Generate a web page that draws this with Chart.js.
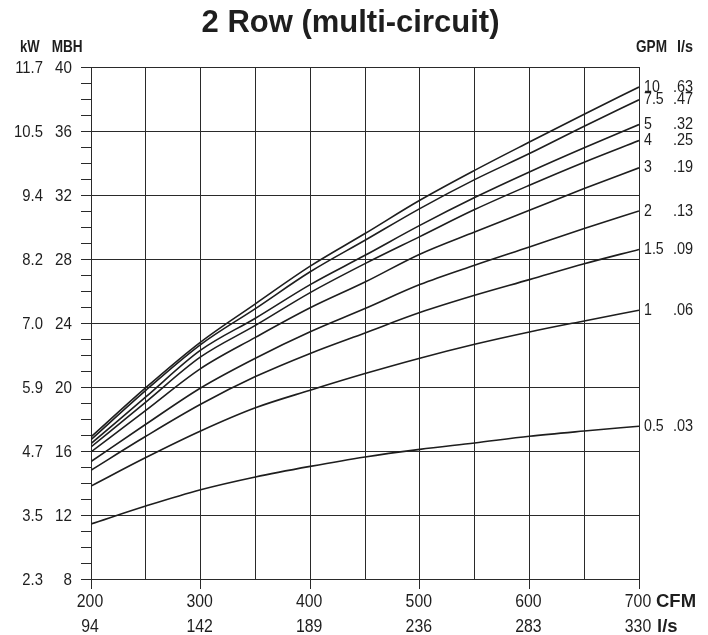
<!DOCTYPE html>
<html>
<head>
<meta charset="utf-8">
<script src="https://cdn.jsdelivr.net/npm/chart.js@4.4.1/dist/chart.umd.min.js"></script>
<style>
  html, body { margin: 0; padding: 0; background: #ffffff; }
  #wrap { width: 708px; height: 635px; }
</style>
</head>
<body>
<div id="wrap"><canvas id="c" width="708" height="635"></canvas></div>
<script>
// ---------- DATA ----------
const TITLE = '2 Row (multi-circuit)';
const CFM = [200, 250, 300, 350, 400, 450, 500, 550, 600, 650, 700];

// Capacity (MBH) per water flow (GPM)
const GPM_0_5 = [11.44, 12.56, 13.58, 14.38, 15.04, 15.63, 16.10, 16.50, 16.92, 17.25, 17.55];
const GPM_1   = [13.81, 15.59, 17.25, 18.70, 19.80, 20.84, 21.80, 22.67, 23.44, 24.13, 24.80];
const GPM_1_5 = [14.80, 16.92, 18.92, 20.65, 22.10, 23.38, 24.65, 25.73, 26.71, 27.70, 28.60];
const GPM_2   = [15.34, 17.67, 19.94, 21.80, 23.45, 24.90, 26.40, 27.61, 28.75, 29.90, 31.00];
const GPM_3   = [15.94, 18.54, 21.15, 23.10, 24.95, 26.56, 28.30, 29.69, 31.04, 32.40, 33.70];
const GPM_4   = [16.25, 19.06, 21.88, 23.85, 25.90, 27.71, 29.40, 31.09, 32.61, 34.05, 35.40];
const GPM_5   = [16.46, 19.38, 22.30, 24.30, 26.40, 28.23, 30.10, 31.84, 33.44, 34.95, 36.40];
const GPM_7_5 = [16.71, 19.79, 22.65, 24.90, 27.20, 29.17, 31.15, 32.96, 34.59, 36.30, 37.95];
const GPM_10  = [16.88, 19.96, 22.81, 25.20, 27.55, 29.59, 31.67, 33.54, 35.31, 37.05, 38.75];

const SERIES = [GPM_0_5, GPM_1, GPM_1_5, GPM_2, GPM_3, GPM_4, GPM_5, GPM_7_5, GPM_10];
const GPM_LABELS = ['0.5', '1', '1.5', '2', '3', '4', '5', '7.5', '10'];
const LPS_FLOW_LABELS = ['.03', '.06', '.09', '.13', '.19', '.25', '.32', '.47', '.63'];

// Axis tick labels
const CFM_TICKS = [200, 300, 400, 500, 600, 700];
const LPS_TICKS = ['94', '142', '189', '236', '283', '330'];
const MBH_TICKS = [8, 12, 16, 20, 24, 28, 32, 36, 40];
const KW_TICKS = ['2.3', '3.5', '4.7', '5.9', '7.0', '8.2', '9.4', '10.5', '11.7'];

// ---------- CHART ----------
const INK = '#1e1e1e';
const GRID = '#2a2a2a';
const FONT = '"Liberation Sans", Arial, Helvetica, sans-serif';

function condText(ctx, text, x, y, align, font, sx) {
  ctx.save();
  ctx.font = font;
  ctx.textBaseline = 'alphabetic';
  ctx.textAlign = 'left';
  const w = ctx.measureText(text).width * sx;
  let x0 = x;
  if (align === 'right') x0 = x - w;
  else if (align === 'center') x0 = x - w / 2;
  ctx.translate(x0, y);
  ctx.scale(sx, 1);
  ctx.fillText(text, 0, 0);
  ctx.restore();
}

const labelsPlugin = {
  id: 'labels',
  afterDraw(chart) {
    const ctx = chart.ctx;
    const xs = chart.scales.x, ys = chart.scales.y;
    ctx.save();
    ctx.fillStyle = INK;

    // Title
    ctx.font = 'bold 31px ' + FONT;
    ctx.textAlign = 'center';
    ctx.textBaseline = 'alphabetic';
    ctx.fillText(TITLE, 350.5, 32);

    // Headers
    const hFont = 'bold 17px ' + FONT;
    condText(ctx, 'kW', 20, 51.5, 'left', hFont, 0.77);
    condText(ctx, 'MBH', 51.7, 51.5, 'left', hFont, 0.8);
    condText(ctx, 'GPM', 636, 51.5, 'left', hFont, 0.8);
    condText(ctx, 'l/s', 677, 51.5, 'left', hFont, 0.85);

    // Y labels
    const yFont = '16.5px ' + FONT;
    MBH_TICKS.forEach((v, i) => {
      const py = ys.getPixelForValue(v) + 5.5;
      condText(ctx, String(v), 72, py, 'right', yFont, 0.92);
      condText(ctx, KW_TICKS[i], 43, py, 'right', yFont, 0.9);
    });

    // X labels
    const xFont = '18px ' + FONT;
    CFM_TICKS.forEach((v, i) => {
      const px = xs.getPixelForValue(v) - 1;
      condText(ctx, String(v), px, 607, 'center', xFont, 0.88);
      condText(ctx, LPS_TICKS[i], px, 632, 'center', xFont, 0.88);
    });
    ctx.font = 'bold 18.5px ' + FONT;
    ctx.textAlign = 'left';
    ctx.fillText('CFM', 656, 607);
    ctx.fillText('l/s', 657, 632);

    // Flow labels at line ends
    const rFont = '16.5px ' + FONT;
    let prev = -Infinity;
    const items = SERIES.map((s, i) => ({ y: ys.getPixelForValue(s[s.length - 1]) + 4.5, i }))
      .sort((a, b) => a.y - b.y);
    items.forEach(it => {
      let y = it.y;
      if (y - prev < 12.8) y = prev + 12.8;
      prev = y;
      condText(ctx, GPM_LABELS[it.i], 644, y, 'left', rFont, 0.86);
      condText(ctx, LPS_FLOW_LABELS[it.i], 673, y, 'left', rFont, 0.88);
    });
    ctx.restore();
  }
};

const datasets = SERIES.map((s, i) => ({
  label: GPM_LABELS[i] + ' GPM',
  data: CFM.map((c, j) => ({ x: c, y: s[j] })),
  borderColor: INK,
  borderWidth: 1.6,
  pointRadius: 0,
  fill: false,
  cubicInterpolationMode: 'monotone'
}));

new Chart(document.getElementById('c'), {
  type: 'line',
  data: { datasets },
  options: {
    responsive: false,
    animation: false,
    events: [],
    layout: { padding: { left: 0, right: 69, top: 67, bottom: 0 } },
    plugins: { legend: { display: false }, tooltip: { enabled: false }, title: { display: false } },
    scales: {
      x: {
        type: 'linear',
        min: 200, max: 700,
        ticks: { stepSize: 50, display: false },
        grid: {
          color: GRID,
          lineWidth: 1,
          tickLength: 10,
          tickColor: (c) => (c.tick && c.tick.value % 100 === 0) ? GRID : 'rgba(0,0,0,0)'
        },
        border: { color: GRID, width: 1 },
        afterFit: (s) => { s.height = 56; }
      },
      y: {
        type: 'linear',
        min: 8, max: 40,
        ticks: { stepSize: 1, display: false },
        grid: {
          color: (c) => (c.tick && c.tick.value % 4 === 0) ? GRID : 'rgba(0,0,0,0)',
          lineWidth: 1,
          tickLength: 10,
          tickColor: GRID
        },
        border: { color: GRID, width: 1 },
        afterFit: (s) => { s.width = 91; }
      }
    }
  },
  plugins: [labelsPlugin]
});
</script>
</body>
</html>
